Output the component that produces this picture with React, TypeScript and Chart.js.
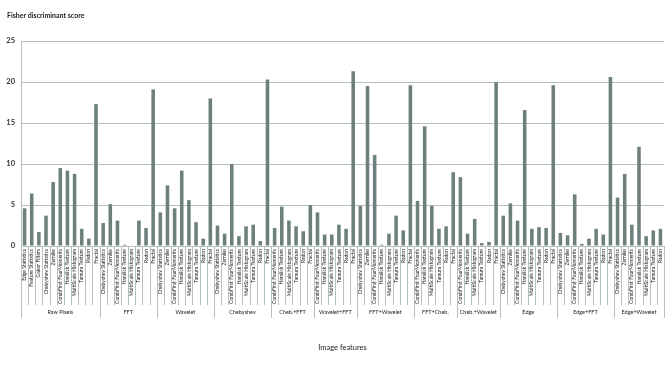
import React, { useEffect, useRef } from "react";
import { Chart, registerables } from "chart.js";

Chart.register(...registerables);

// ---- data ----
const full8 = ["Chebyshev Statistics", "Zernike", "CombFirst FourMoments", "Haralick Texture", "MultiScale Histogram", "Tamura Texture", "Radon", "Fractal"];
const combo6 = ["CombFirst FourMoments", "Haralick Texture", "MultiScale Histogram", "Tamura Texture", "Radon", "Fractal"];
const rawFeatures = ["Edge Statistics", "Feature Statistics", "Gabor Filters", "Chebyshev Statistics", "Zernike", "CombFirst FourMoments", "Haralick Texture", "MultiScale Histogram", "Tamura Texture", "Radon", "Fractal"];
const edgeWaveletFeatures = ["Chebyshev Statistics", "Zernike", "CombFirst FourMoments", "Haralick Texture", "MultiScale Histogram", "Tamura Texture", "Radon"];

const groupNames = ["Raw Pixels", "FFT", "Wavelet", "Chebyshev", "Cheb.+FFT", "Wavelet+FFT", "FFT+Wavelet", "FFT+Cheb.", "Cheb.+Wavelet", "Edge", "Edge+FFT", "Edge+Wavelet"];
const groupFeatures = [rawFeatures, full8, full8, full8, combo6, combo6, full8, combo6, combo6, full8, full8, edgeWaveletFeatures];

const rawPixelsValues = [4.6, 6.4, 1.7, 3.7, 7.8, 9.5, 9.2, 8.8, 2.1, 0.9, 17.3];
const fftValues = [2.8, 5.1, 3.1, 0.15, 0, 3.1, 2.2, 19.1];
const waveletValues = [4.1, 7.4, 4.6, 9.2, 5.6, 2.9, 0.9, 18.0];
const chebyshevValues = [2.5, 1.5, 10.0, 1.2, 2.4, 2.6, 0.6, 20.3];
const chebFftValues = [2.2, 4.8, 3.1, 2.4, 1.8, 5.0];
const waveletFftValues = [4.1, 1.4, 1.4, 2.6, 2.1, 21.3];
const fftWaveletValues = [4.9, 19.5, 11.1, 0.15, 1.5, 3.7, 1.9, 19.6];
const fftChebValues = [5.5, 14.6, 4.9, 2.1, 2.4, 9.0];
const chebWaveletValues = [8.4, 1.5, 3.3, 0.35, 0.5, 20.0];
const edgeValues = [3.7, 5.2, 3.1, 16.6, 2.1, 2.3, 2.2, 19.6];
const edgeFftValues = [1.6, 1.3, 6.3, 0.25, 0.9, 2.1, 1.4, 20.6];
const edgeWaveletValues = [5.9, 8.8, 2.6, 12.1, 1.2, 1.9, 2.1];

const groupValues = [rawPixelsValues, fftValues, waveletValues, chebyshevValues, chebFftValues, waveletFftValues, fftWaveletValues, fftChebValues, chebWaveletValues, edgeValues, edgeFftValues, edgeWaveletValues];

const yTicks = [0, 5, 10, 15, 20, 25];
const yTitle = "Fisher discriminant score";
const xTitle = "Image features";

const FONT = "Lato, 'Open Sans', sans-serif";
const BAR = "#6d807e";
const LINE = "#b4c0c0";

export default function App() {
  const ref = useRef<HTMLCanvasElement | null>(null);
  useEffect(() => {
    const labels: string[] = [];
    const values: number[] = [];
    const groupStart: number[] = [];
    groupFeatures.forEach((f, gi) => {
      groupStart.push(labels.length);
      f.forEach((name, i) => {
        labels.push(name);
        values.push(groupValues[gi][i]);
      });
    });
    groupStart.push(labels.length);

    const labelPlugin = {
      id: "hierLabels",
      afterDraw(chart: any) {
        const ctx = chart.ctx;
        const x = chart.scales.x;
        const ca = chart.chartArea;
        const n = labels.length;
        const bound = (i: number) => {
          if (i <= 0) return x.left;
          if (i >= n) return x.right;
          return (x.getPixelForValue(i - 1) + x.getPixelForValue(i)) / 2;
        };
        const y0 = ca.bottom;
        ctx.save();
        ctx.strokeStyle = LINE;
        ctx.lineWidth = 1;
        for (let i = 0; i <= n; i++) {
          const isGroup = groupStart.includes(i);
          const bx = Math.round(bound(i)) + 0.5;
          ctx.beginPath();
          ctx.moveTo(bx, y0);
          ctx.lineTo(bx, isGroup ? y0 + 72 : y0 + 59);
          ctx.stroke();
        }
        ctx.fillStyle = "#222";
        ctx.font = `5px ${FONT}`;
        ctx.textAlign = "right";
        ctx.textBaseline = "middle";
        for (let i = 0; i < n; i++) {
          const px = x.getPixelForValue(i);
          ctx.save();
          ctx.translate(px, y0 + 3);
          ctx.rotate(-Math.PI / 2);
          ctx.fillText(labels[i], 0, 0);
          ctx.restore();
        }
        ctx.font = `5.5px ${FONT}`;
        ctx.textAlign = "center";
        for (let g = 0; g < groupNames.length; g++) {
          const cx = (bound(groupStart[g]) + bound(groupStart[g + 1])) / 2;
          ctx.fillText(groupNames[g], cx, y0 + 66);
        }
        ctx.font = `7.5px ${FONT}`;
        ctx.fillText(xTitle, (ca.left + ca.right) / 2, y0 + 102);
        ctx.textAlign = "left";
        ctx.font = `bold 7px ${FONT}`;
        ctx.fillText(yTitle, 7, 16);
        ctx.restore();
      },
    };

    const chart = new Chart(ref.current as HTMLCanvasElement, {
      type: "bar",
      data: {
        labels,
        datasets: [
          {
            data: values,
            backgroundColor: BAR,
            borderWidth: 0,
            categoryPercentage: 1,
            barPercentage: 0.5,
          },
        ],
      },
      options: {
        responsive: false,
        animation: false,
        layout: { padding: { left: 0, right: 4, top: 41, bottom: 0 } },
        plugins: { legend: { display: false }, tooltip: { enabled: false }, title: { display: false } },
        scales: {
          x: {
            ticks: { display: false },
            grid: { display: false },
            border: { display: false },
            afterFit: (s: any) => {
              s.height = 127;
            },
          },
          y: {
            min: 0,
            max: 25,
            afterBuildTicks: (s: any) => {
              s.ticks = yTicks.map((v) => ({ value: v }));
            },
            ticks: { color: "#333", font: { family: FONT, size: 7.5, weight: "bold" }, padding: 6 },
            grid: { color: LINE, drawTicks: false },
            border: { display: true, color: LINE },
            afterFit: (s: any) => {
              s.width = 21;
            },
          },
        },
      },
      plugins: [labelPlugin],
    } as any);
    return () => chart.destroy();
  }, []);
  return (
    <div style={{ position: "fixed", left: 0, top: 0, width: 668, height: 373, background: "#fff" }}>
      <canvas ref={ref} width={668} height={373} />
    </div>
  );
}
